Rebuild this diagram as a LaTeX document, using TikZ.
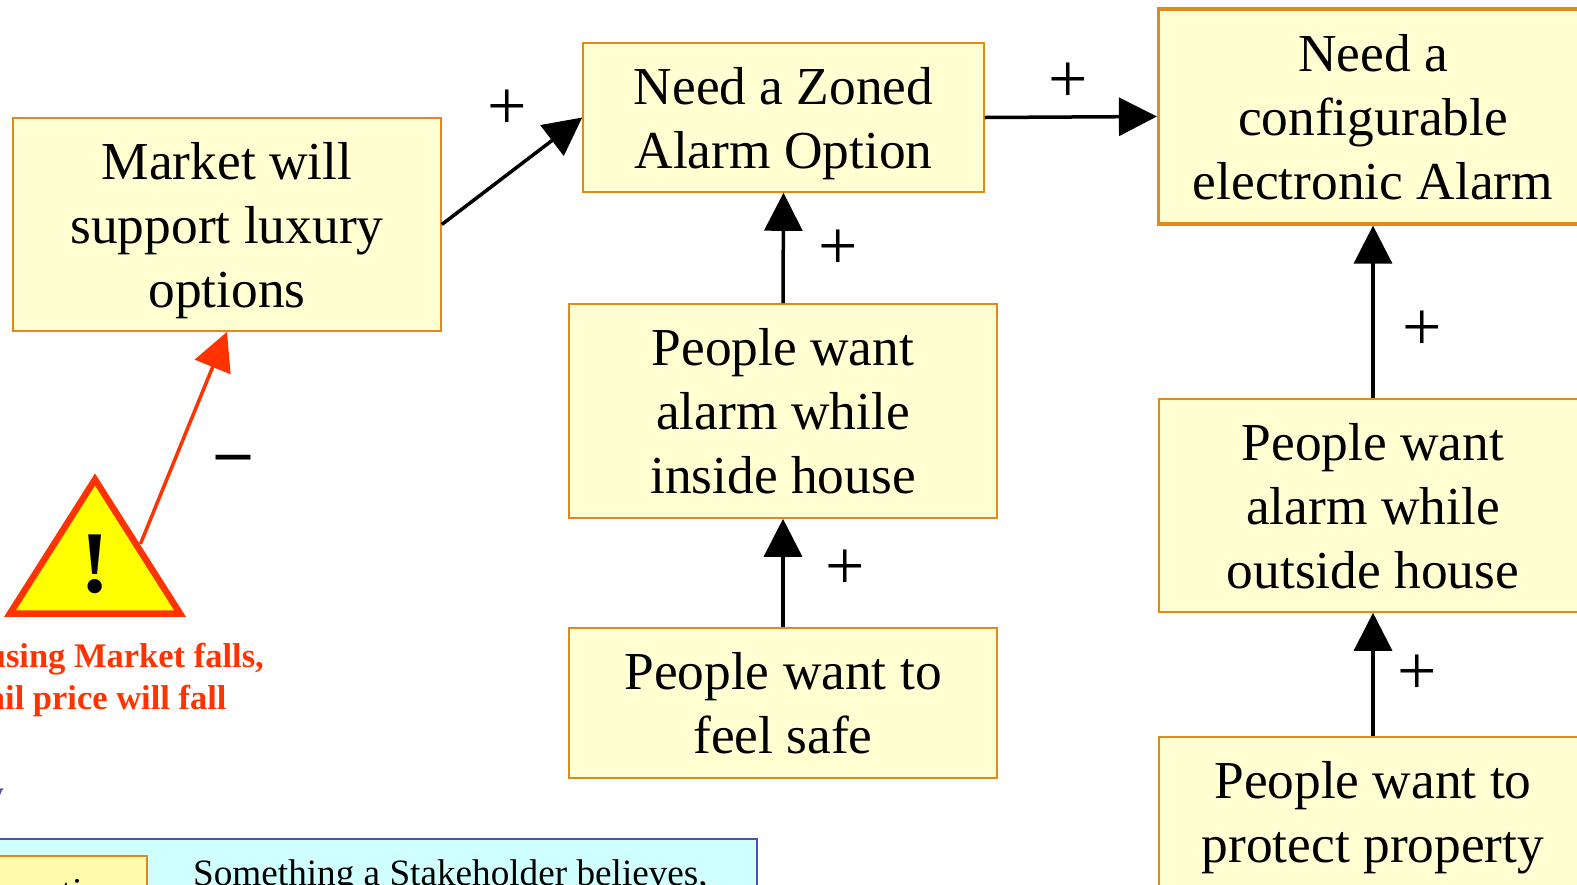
\documentclass[tikz,border=0pt]{standalone}
\usepackage{fontspec}
\setmainfont{Liberation Serif}
\usetikzlibrary{arrows.meta,shapes.geometric}
\definecolor{boxfill}{HTML}{FFFFD2}
\definecolor{boxline}{HTML}{E08A1E}
\definecolor{warnred}{HTML}{FF3300}
\definecolor{warnfill}{HTML}{FFFF00}
\definecolor{keyfill}{HTML}{CFFFFF}
\definecolor{keyline}{HTML}{5050B4}
\definecolor{tagfill}{HTML}{FFFBAA}
\tikzset{
  goalbox/.style={draw=boxline,fill=boxfill,line width=1.6pt,align=center,
    font=\fontsize{53.4}{64}\selectfont,inner sep=0pt,text depth=0pt},
  link/.style={line width=3.5pt,-{Triangle[length=38pt,width=38pt]}},
  sign/.style={font=\fontsize{70}{70}\selectfont,inner sep=0pt}
}
\begin{document}
\begin{tikzpicture}[x=1pt,y=-1pt]
\useasboundingbox (0,0) rectangle (1577,884);
\clip (0,0) rectangle (1577,884);

\node[goalbox,minimum width=428pt,minimum height=213pt] (market) at (227,224.5) {Market will\\support luxury\\options};
\node[goalbox,minimum width=401pt,minimum height=149pt] (zoned) at (783.5,117.5) {Need a Zoned\\Alarm Option};
\node[goalbox,minimum width=428pt,minimum height=214pt] (inside) at (783,411) {People want\\alarm while\\inside house};
\node[goalbox,minimum width=428pt,minimum height=150pt] (safe) at (783,703) {People want to\\feel safe};
\node[goalbox,line width=3.2pt,minimum width=429pt,minimum height=215pt] (config) at (1373,116.5) {Need a\\configurable\\electronic Alarm};
\node[goalbox,minimum width=428pt,minimum height=213pt] (outside) at (1373,505.5) {People want\\alarm while\\outside house};
\node[goalbox,minimum width=428pt,minimum height=213pt] (protect) at (1373,843.5) {People want to\\protect property\\\phantom{x}};

\node[isosceles triangle,shape border rotate=90,isosceles triangle stretches,draw=warnred,fill=warnfill,
  line width=6.5pt,minimum width=170pt,minimum height=134pt,inner sep=0pt,anchor=apex] (warn) at (95,471) {};
\node[font=\bfseries\fontsize{88}{88}\selectfont,inner sep=0pt] (mark) at (95,564) {!};
\node[font=\bfseries\fontsize{34.5}{42.2}\selectfont,text=warnred,align=center,inner sep=0pt] (warntext) at (86.5,680) {If Housing Market falls,\\retail price will fall};

\draw[link] (market.east) -- (zoned.west);
\draw[link] (zoned.east) -- (config.west);
\draw[link] (inside.north) -- (zoned.south);
\draw[link] (safe.north) -- (inside.south);
\draw[link] (outside.north) -- (config.south);
\draw[link] (protect.north) -- (outside.south);
\draw[link,warnred] (warn.right side) -- (market.south);

\node[sign] (plusa) at (507,110) {+};
\node[sign] (plusb) at (1068,83) {+};
\node[sign] (plusc) at (838,250) {+};
\node[sign] (plusd) at (845,570) {+};
\node[sign] (pluse) at (1422,331) {+};
\node[sign] (plusf) at (1417,675) {+};
\node[sign,font=\bfseries\fontsize{68}{68}\selectfont] (minus) at (233,464) {–};

\node[font=\bfseries\fontsize{36}{42}\selectfont,text=keyline,anchor=base east,inner sep=0pt] (keyword) at (4,805) {Key};
\node[draw=keyline,fill=keyfill,line width=2pt,minimum width=800pt,minimum height=200pt,anchor=north east] (keybox) at (758,838) {};
\node[draw=boxline,fill=tagfill,line width=2pt,minimum width=300pt,minimum height=120pt,anchor=north east,inner sep=0pt] (keytag) at (148,855) {};
\node[font=\fontsize{38}{46}\selectfont,anchor=base east,inner sep=0pt] (keyname) at (121,904) {Assumption};
\node[font=\fontsize{37.2}{44}\selectfont,anchor=base west,inner sep=0pt] (keytext) at (193,885) {Something a Stakeholder believes,};
\end{tikzpicture}
\end{document}
